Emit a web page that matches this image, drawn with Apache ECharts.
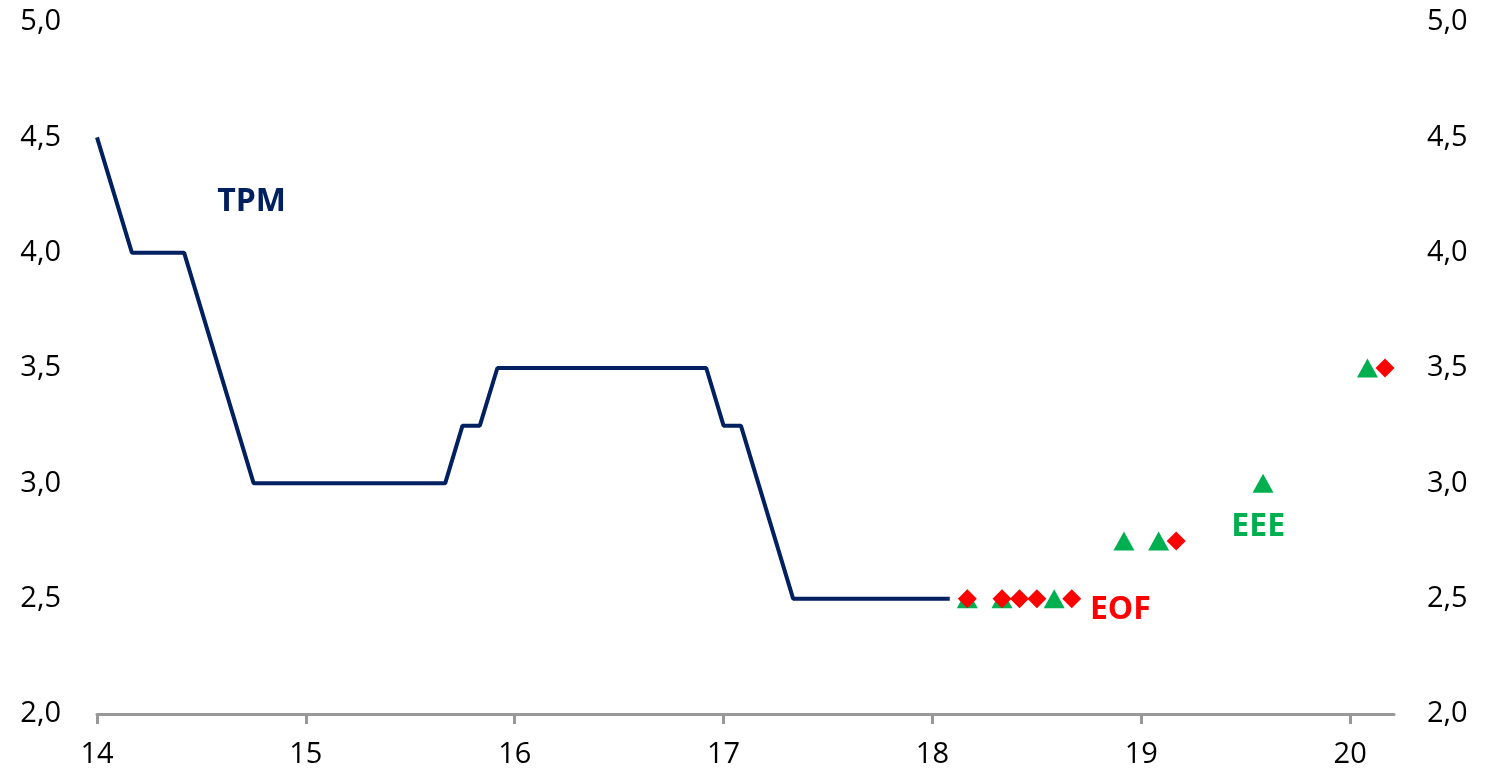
<!DOCTYPE html>
<html>
<head>
<meta charset="utf-8">
<script src="https://cdn.jsdelivr.net/npm/echarts@6/dist/echarts.min.js"></script>
<style>
  html, body { margin: 0; padding: 0; background: #fff; }
  #chart { width: 1489px; height: 780px; }
</style>
</head>
<body>
<div id="chart"></div>
<script>
// TPM vertices (year, rate)
const tpmX = [14.0, 14.167, 14.417, 14.75, 15.667, 15.75, 15.833, 15.917, 16.917, 17.0, 17.083, 17.333, 18.083]
const tpmY = [4.5, 4.0, 4.0, 3.0, 3.0, 3.25, 3.25, 3.5, 3.5, 3.25, 3.25, 2.5, 2.5]

// EEE expectations (green triangles)
const eeeX = [18.167, 18.333, 18.583, 18.917, 19.083, 19.583, 20.083]
const eeeY = [2.5, 2.5, 2.5, 2.75, 2.75, 3.0, 3.5]

// EOF expectations (red diamonds)
const eofX = [18.167, 18.333, 18.417, 18.5, 18.667, 19.167, 20.167]
const eofY = [2.5, 2.5, 2.5, 2.5, 2.5, 2.75, 3.5]

// series name labels, placed in data coordinates
const labelNames = ['TPM', 'EEE', 'EOF']
const labelX = [14.74, 19.56, 18.90]
const labelY = [4.22, 2.81, 2.45]
const labelColors = ['#002060', '#00B050', '#FF0000']

const xTicks = [14, 15, 16, 17, 18, 19, 20]

const font = '"Open Sans", sans-serif'
const fmt = v => v.toFixed(1).replace('.', ',')

const zip = (xs, ys) => xs.map((x, i) => [x, ys[i]])

const chart = echarts.init(document.getElementById('chart'))

const yAxisBase = {
  type: 'value',
  min: 2,
  max: 5,
  interval: 0.5,
  splitLine: { show: false },
  axisLine: { show: false },
  axisTick: { show: false },
  axisLabel: { formatter: fmt, fontSize: 29, color: '#000', fontFamily: font }
}

chart.setOption({
  animation: false,
  grid: { left: 97, right: 95, top: 22, bottom: 66 },
  xAxis: {
    type: 'value',
    min: 14,
    max: 20.21,
    interval: 1,
    splitLine: { show: false },
    axisLine: { lineStyle: { color: '#999', width: 3 } },
    axisTick: { show: true, length: 10, lineStyle: { color: '#999', width: 3 } },
    axisLabel: {
      fontSize: 29, color: '#000', fontFamily: font, margin: 26,
      showMaxLabel: false,
      formatter: v => xTicks.includes(v) ? String(v) : ''
    }
  },
  yAxis: [
    Object.assign({}, yAxisBase, { position: 'left', axisLabel: Object.assign({}, yAxisBase.axisLabel, { margin: 36 }) }),
    Object.assign({}, yAxisBase, { position: 'right', axisLabel: Object.assign({}, yAxisBase.axisLabel, { margin: 33 }) })
  ],
  series: [
    {
      name: 'TPM',
      type: 'line',
      data: zip(tpmX, tpmY),
      showSymbol: false,
      lineStyle: { color: '#002060', width: 4 },
      z: 2
    },
    {
      name: 'EEE',
      type: 'scatter',
      data: zip(eeeX, eeeY),
      symbol: 'triangle',
      symbolSize: [21, 19],
      itemStyle: { color: '#00B050', opacity: 1 },
      z: 3
    },
    {
      name: 'EOF',
      type: 'scatter',
      data: zip(eofX, eofY),
      symbol: 'diamond',
      symbolSize: [19, 19],
      itemStyle: { color: '#FF0000', opacity: 1 },
      z: 4
    },
    {
      name: 'labels',
      type: 'scatter',
      symbolSize: 0,
      silent: true,
      itemStyle: { opacity: 1 },
      data: labelNames.map((n, i) => ({
        value: [labelX[i], labelY[i]],
        label: {
          show: true,
          position: 'inside',
          formatter: n,
          color: labelColors[i],
          opacity: 1,
          fontSize: 32,
          fontWeight: 'bold',
          fontFamily: font
        }
      })),
      z: 5
    }
  ]
})
</script>
</body>
</html>
